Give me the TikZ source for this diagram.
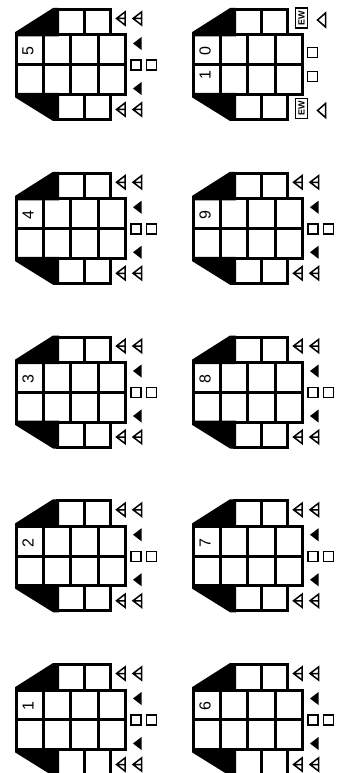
\documentclass[tikz,border=0pt]{standalone}
\usepackage{fontspec}
\setmainfont{Liberation Sans}

\begin{document}
\begin{tikzpicture}[x=1pt, y=-1pt,
    wall/.style={line width=3pt, line join=miter},
    symline/.style={line width=1.5pt, line join=miter},
    seatno/.style={rotate=90, inner sep=0pt, font=\fontsize{16}{16}\selectfont},
    ewtag/.style={draw, line width=1.2pt, rotate=90, minimum width=20pt, minimum height=12pt,
      inner sep=0pt, font=\fontsize{9}{9}\selectfont\bfseries},
    seatarrow/.pic={\draw[symline] (4,-6.5) -- (-4.5,0) -- (4,6.5) -- cycle (-4.5,0) -- (4,0);},
    exitarrow/.pic={\fill (4,-6.5) -- (-4.5,0) -- (4,6.5) -- cycle;},
    doorarrow/.pic={\draw[symline] (4,-7) -- (-4,0) -- (4,7) -- cycle;},
    smallbox/.pic={\draw[symline] (-5,-5) rectangle (5,5);}]
  \useasboundingbox (0,0) rectangle (337,773);
  % the ten plans
  \foreach \n/\ox/\oy in {5/16.5/9.5, 4/16.5/173.25, 3/16.5/337, 2/16.5/500.75, 1/16.5/664.5,
                          10/193.5/9.5, 9/193.5/173.25, 8/193.5/337, 7/193.5/500.75, 6/193.5/664.5}{
    \begin{scope}[shift={(\ox,\oy)}]
      \filldraw[wall] (0,25.5) -- (0,23.5) -- (37,0) -- (41,0) -- (41,25.5) -- cycle;
      \filldraw[wall] (0,85) -- (0,87) -- (37,110) -- (41,110) -- (41,85) -- cycle;
      \foreach \i in {0,1}{
        \draw[wall] (41+\i*26.5,0) rectangle ++(26.5,25.5);
        \draw[wall] (41+\i*26.5,85) rectangle ++(26.5,25);
      }
      \foreach \i in {0,...,3}
        \foreach \j in {0,1}
          \draw[wall] (\i*27.2,25.5+\j*29.75) rectangle ++(27.2,29.75);
    \end{scope}
  }
  % numbers and marks, plans 1 to 9
  \foreach \n/\ox/\oy in {5/16.5/9.5, 4/16.5/173.25, 3/16.5/337, 2/16.5/500.75, 1/16.5/664.5,
                          9/193.5/173.25, 8/193.5/337, 7/193.5/500.75, 6/193.5/664.5}{
    \begin{scope}[shift={(\ox,\oy)}]
      \node[seatno] (num\n) at (11.5,42) {\n};
      \foreach \sx/\sy in {104.5/9, 121/9, 104.5/100, 121/100}
        \pic at (\sx,\sy) {seatarrow};
      \pic at (121,34) {exitarrow};
      \pic at (121,79) {exitarrow};
      \pic at (119.5,55.5) {smallbox};
      \pic at (135,55.5) {smallbox};
    \end{scope}
  }
  % plan 10
  \begin{scope}[shift={(193.5,9.5)}]
    \node[seatno] (num10a) at (11.5,42) {0};
    \node[seatno] (num10b) at (11.5,65.5) {1};
    \node[ewtag] (ewtop) at (108,8.5) {EW};
    \node[ewtag] (ewbot) at (108,99) {EW};
    \pic at (128,10.5) {doorarrow};
    \pic at (128,101) {doorarrow};
    \pic at (119,43) {smallbox};
    \pic at (119,67) {smallbox};
  \end{scope}
\end{tikzpicture}
\end{document}
